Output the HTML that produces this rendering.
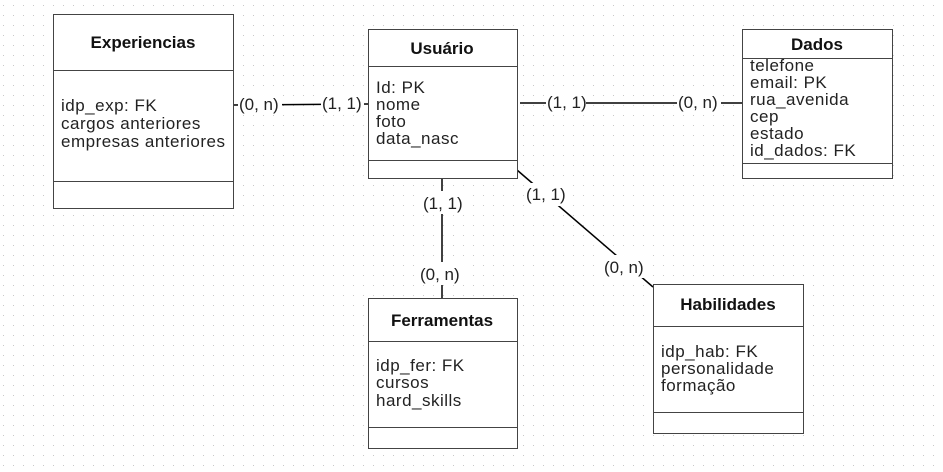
<!DOCTYPE html>
<html><head><meta charset="utf-8"><style>
html,body{margin:0;padding:0;background:#fff;}
svg{display:block;font-family:"Liberation Sans",sans-serif;}
</style></head><body>
<svg width="943" height="472" xmlns="http://www.w3.org/2000/svg">
<defs>
<pattern id="g" x="3" y="5" width="10" height="10" patternUnits="userSpaceOnUse">
<rect x="0" y="0" width="1" height="1" fill="#c8c8c8"/>
</pattern>
</defs>
<rect width="943" height="472" fill="#fff"/>
<rect width="943" height="472" fill="url(#g)"/>

<g stroke="#000" stroke-width="1.5" fill="none">
<line x1="233" y1="105" x2="368" y2="104"/>
<line x1="520" y1="103" x2="742" y2="103"/>
<line x1="442" y1="178" x2="442" y2="298"/>
<line x1="517" y1="170" x2="653" y2="287"/>
</g>

<g fill="#fff">
<rect x="238" y="94" width="44" height="21"/>
<rect x="321" y="93" width="43" height="21"/>
<rect x="546" y="92" width="40" height="21"/>
<rect x="677" y="92" width="44" height="21"/>
<rect x="419" y="191" width="46" height="23"/>
<rect x="417" y="262" width="50" height="23"/>
<rect x="524" y="183" width="41" height="23"/>
<rect x="601" y="255" width="48" height="23"/>
</g>
<g font-size="17" fill="#222">
<text x="239" y="110">(0, n)</text>
<text x="322" y="109">(1, 1)</text>
<text x="547" y="108">(1, 1)</text>
<text x="678" y="108">(0, n)</text>
<text x="423" y="209">(1, 1)</text>
<text x="420" y="280">(0, n)</text>
<text x="526" y="200">(1, 1)</text>
<text x="604" y="273">(0, n)</text>
</g>

<g stroke="#444" stroke-width="1" fill="#fff">
<rect x="53.5" y="14.5" width="180" height="194"/>
<line x1="53" y1="70.5" x2="233" y2="70.5"/>
<line x1="53" y1="181.5" x2="233" y2="181.5"/>
<rect x="368.5" y="29.5" width="149" height="149"/>
<line x1="368" y1="66.5" x2="517" y2="66.5"/>
<line x1="368" y1="160.5" x2="517" y2="160.5"/>
<rect x="742.5" y="29.5" width="150" height="149"/>
<line x1="742" y1="58.5" x2="892" y2="58.5"/>
<line x1="742" y1="163.5" x2="892" y2="163.5"/>
<rect x="368.5" y="298.5" width="149" height="150"/>
<line x1="368" y1="341.5" x2="517" y2="341.5"/>
<line x1="368" y1="427.5" x2="517" y2="427.5"/>
<rect x="653.5" y="284.5" width="150" height="149"/>
<line x1="653" y1="326.5" x2="803" y2="326.5"/>
<line x1="653" y1="412.5" x2="803" y2="412.5"/>
</g>

<g font-size="17" font-weight="bold" fill="#111" text-anchor="middle">
<text x="143" y="48">Experiencias</text>
<text x="442" y="54">Usuário</text>
<text x="817" y="50">Dados</text>
<text x="442" y="326">Ferramentas</text>
<text x="728" y="310">Habilidades</text>
</g>

<g font-size="17" fill="#222" letter-spacing="0.5">
<text x="61" y="111">idp_exp: FK</text>
<text x="61" y="129">cargos anteriores</text>
<text x="61" y="147">empresas anteriores</text>

<text x="376" y="93">Id: PK</text>
<text x="376" y="110">nome</text>
<text x="376" y="127">foto</text>
<text x="376" y="144">data_nasc</text>

<text x="750" y="71">telefone</text>
<text x="750" y="88">email: PK</text>
<text x="750" y="105">rua_avenida</text>
<text x="750" y="122">cep</text>
<text x="750" y="139">estado</text>
<text x="750" y="156">id_dados: FK</text>

<text x="376" y="371">idp_fer: FK</text>
<text x="376" y="388">cursos</text>
<text x="376" y="406">hard_skills</text>

<text x="661" y="357">idp_hab: FK</text>
<text x="661" y="374">personalidade</text>
<text x="661" y="391">formação</text>
</g>
</svg>
</body></html>
